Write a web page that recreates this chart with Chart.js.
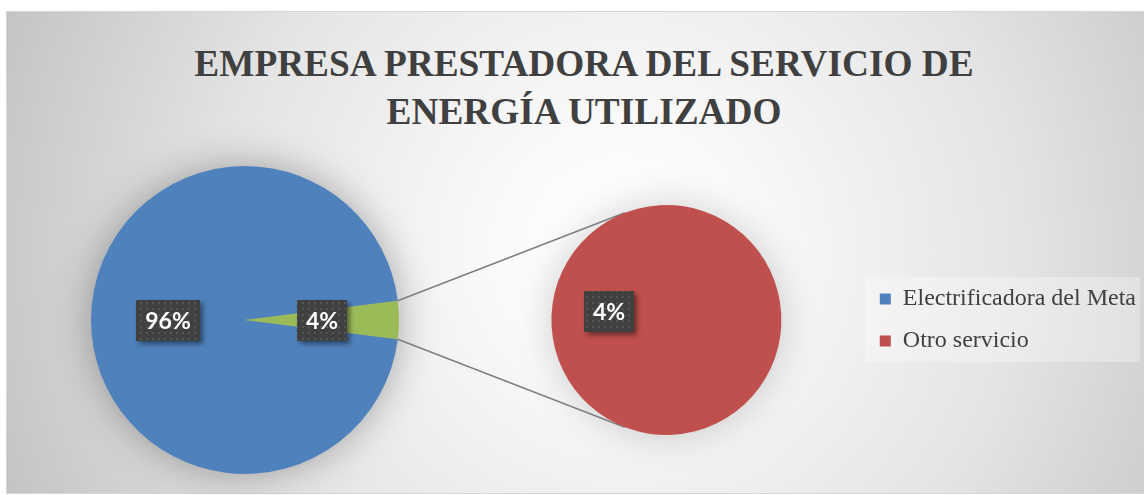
<!DOCTYPE html>
<html lang="es">
<head>
  <meta charset="UTF-8" />
  <title>Empresa prestadora del servicio de energía utilizado</title>
  <script src="https://cdn.jsdelivr.net/npm/chart.js"></script>
  <style>
    html, body { margin: 0; padding: 0; background: #fff; }
    #wrap { position: relative; width: 1144px; height: 495px; overflow: hidden; background: #fff; }
    #frame {
      position: absolute; left: 6px; top: 11px; width: 1138px; height: 483px;
      box-sizing: border-box; border: 1px solid #d6d6d6; border-right: none;
      background: radial-gradient(circle 660px at 614px 239px, #ffffff 0px, #fafafa 120px, #e4e4e4 400px, #c4c4c4 660px);
    }
    #title {
      position: absolute; left: 0; top: 40px; width: 1168px; text-align: center;
      font: bold 37.3px "Liberation Serif", "Times New Roman", serif; line-height: 48px;
      color: #404040; white-space: nowrap;
    }
    #mainBox { position: absolute; left: 0; top: 0; width: 490px; height: 495px; }
    #subBox { position: absolute; left: 380px; top: 0; width: 800px; height: 495px; }
  </style>
</head>
<body>
  <div id="wrap">
    <div id="frame"></div>
    <div id="title">EMPRESA PRESTADORA DEL SERVICIO DE<br>ENERGÍA UTILIZADO</div>
    <div id="mainBox"><canvas id="mainChart" width="490" height="495"></canvas></div>
    <div id="subBox"><canvas id="subChart" width="800" height="495"></canvas></div>
  </div>

  <script>
    // data
    const mainLabels = ['Electrificadora del Meta', 'Otro servicio'];
    const mainValues = [96, 4];
    const mainColors = ['#4f81bd', '#9bbb59'];

    const subLabels = ['Otro servicio'];
    const subValues = [4];
    const subColors = ['#c0504d'];

    const legendLabels = ['Electrificadora del Meta', 'Otro servicio'];
    const legendColors = ['#4f81bd', '#c0504d'];

    const total = mainValues.reduce((a, b) => a + b, 0);

    // dark dotted box used behind the percentages
    function makePattern(ctx) {
      const c = document.createElement('canvas');
      c.width = 6; c.height = 6;
      const p = c.getContext('2d');
      p.fillStyle = '#404040';
      p.fillRect(0, 0, 6, 6);
      p.fillStyle = '#565656';
      p.fillRect(2, 2, 2, 2);
      return ctx.createPattern(c, 'repeat');
    }

    const boxLabels = {
      id: 'boxLabels',
      afterDatasetsDraw(chart) {
        const ctx = chart.ctx;
        const meta = chart.getDatasetMeta(0);
        const values = chart.data.datasets[0].data;
        const pattern = makePattern(ctx);
        ctx.save();
        ctx.font = 'bold 23px Lato, "Open Sans", sans-serif';
        meta.data.forEach((arc, i) => {
          const mid = (arc.startAngle + arc.endAngle) / 2;
          const r = arc.outerRadius * 0.5;
          const cx = arc.x + Math.cos(mid) * r;
          const cy = arc.y + Math.sin(mid) * r;
          const text = Math.round(values[i] / total * 100) + '%';
          const w = Math.round(ctx.measureText(text).width + 18);
          const h = 41;
          const x = Math.round(cx - w / 2), y = Math.round(cy - h / 2);
          ctx.shadowColor = 'rgba(0,0,0,0.45)';
          ctx.shadowBlur = 5;
          ctx.shadowOffsetX = 3;
          ctx.shadowOffsetY = 3;
          ctx.fillStyle = pattern;
          ctx.fillRect(x, y, w, h);
          ctx.shadowColor = 'transparent';
          ctx.fillStyle = '#ffffff';
          ctx.textAlign = 'center';
          ctx.textBaseline = 'middle';
          ctx.fillText(text, x + w / 2, y + h / 2 + 1);
        });
        ctx.restore();
      }
    };

    // soft shadow under each pie
    const pieShadow = {
      id: 'pieShadow',
      beforeDatasetsDraw(chart) {
        const arc = chart.getDatasetMeta(0).data[0];
        const ctx = chart.ctx;
        ctx.save();
        ctx.shadowColor = chart.canvas.id === 'mainChart' ? 'rgba(0,0,0,0.34)' : 'rgba(0,0,0,0.2)';
        ctx.shadowBlur = 40;
        ctx.fillStyle = '#999';
        ctx.beginPath();
        ctx.arc(arc.x, arc.y, arc.outerRadius - 2, 0, Math.PI * 2);
        ctx.fill();
        ctx.restore();
      }
    };

    const mainChart = new Chart(document.getElementById('mainChart'), {
      type: 'pie',
      data: {
        labels: mainLabels,
        datasets: [{
          data: mainValues,
          backgroundColor: mainColors,
          borderWidth: 0,
          rotation: 97.2
        }]
      },
      options: {
        responsive: false,
        animation: false,
        layout: { padding: { left: 91, right: 91, top: 166, bottom: 21 } },
        plugins: {
          legend: { display: false },
          tooltip: { enabled: false }
        }
      },
      plugins: [pieShadow, boxLabels]
    });

    // lines from the small slice to the second pie
    const connectors = {
      id: 'connectors',
      beforeDatasetsDraw(chart) {
        const g = mainChart.getDatasetMeta(0).data[1];
        const red = chart.getDatasetMeta(0).data[0];
        const dx = document.getElementById('subBox').offsetLeft - document.getElementById('mainBox').offsetLeft;
        const ctx = chart.ctx;
        ctx.save();
        ctx.strokeStyle = '#7f7f7f';
        ctx.lineWidth = 1.5;
        [g.startAngle, g.endAngle].forEach((a, k) => {
          const px = g.x + Math.cos(a) * g.outerRadius - dx;
          const py = g.y + Math.sin(a) * g.outerRadius;
          const theta = Math.atan2(py - red.y, px - red.x);
          const d = Math.hypot(px - red.x, py - red.y);
          const off = Math.acos(red.outerRadius / d);
          const t = k === 0 ? theta + off : theta - off;
          ctx.beginPath();
          ctx.moveTo(px, py);
          ctx.lineTo(red.x + Math.cos(t) * red.outerRadius, red.y + Math.sin(t) * red.outerRadius);
          ctx.stroke();
        });
        ctx.restore();
      }
    };

    const legendBg = {
      id: 'legendBg',
      beforeDraw(chart) {
        const boxes = chart.legend.legendHitBoxes;
        if (!boxes || !boxes.length) return;
        const left = Math.min(...boxes.map(b => b.left)) - 15;
        const top = boxes[0].top - 10;
        const right = 760;
        const last = boxes[boxes.length - 1];
        const bottom = last.top + last.height + 9;
        chart.ctx.save();
        chart.ctx.fillStyle = 'rgba(255,255,255,0.3)';
        chart.ctx.fillRect(left, top, right - left, bottom - top);
        chart.ctx.restore();
      }
    };

    const subChart = new Chart(document.getElementById('subChart'), {
      type: 'pie',
      data: {
        labels: subLabels,
        datasets: [{
          data: subValues,
          backgroundColor: subColors,
          borderWidth: 0,
          rotation: 98
        }]
      },
      options: {
        responsive: false,
        animation: false,
        layout: { padding: { left: 91, right: 34, top: 205, bottom: 60 } },
        plugins: {
          tooltip: { enabled: false },
          legend: {
            position: 'right',
            onClick: null,
            labels: {
              color: '#404040',
              font: { family: '"Liberation Serif", "Times New Roman", serif', size: 24 },
              boxWidth: 11,
              boxHeight: 11,
              padding: 18,
              generateLabels: () => legendLabels.map((t, i) => ({
                text: t,
                fillStyle: legendColors[i],
                strokeStyle: legendColors[i],
                fontColor: '#404040',
                lineWidth: 0,
                hidden: false,
                index: i
              }))
            }
          }
        }
      },
      plugins: [legendBg, pieShadow, connectors, boxLabels]
    });
  </script>
</body>
</html>
